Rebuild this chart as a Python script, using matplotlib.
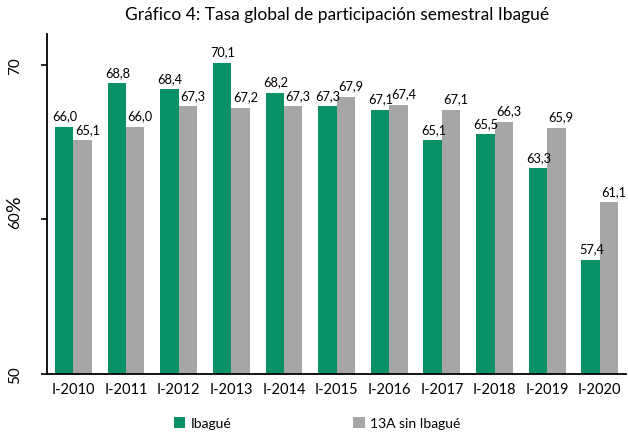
import matplotlib
matplotlib.use("Agg")
import matplotlib.pyplot as plt
import numpy as np

plt.rcParams['font.family'] = ['Lato', 'DejaVu Sans']

categories = ["I-2010", "I-2011", "I-2012", "I-2013", "I-2014", "I-2015", "I-2016",
              "I-2017", "I-2018", "I-2019", "I-2020"]
ibague = [66.0, 68.8, 68.4, 70.1, 68.2, 67.3, 67.1, 65.1, 65.5, 63.3, 57.4]
sin_ibague = [65.1, 66.0, 67.3, 67.2, 67.3, 67.9, 67.4, 67.1, 66.3, 65.9, 61.1]

green = "#0A9168"
gray = "#A6A6A6"

fig = plt.figure(figsize=(6.28, 4.35), dpi=100)
ax = fig.add_axes([0.075, 0.138, 0.922, 0.782])

x = np.arange(len(categories))
w = 0.35
b1 = ax.bar(x - w/2, ibague, w, color=green, label="Ibagué")
b2 = ax.bar(x + w/2, sin_ibague, w, color=gray, label="13A sin Ibagué")

def fmt(v):
    return f"{v:.1f}".replace(".", ",")

for rect, v in zip(b1, ibague):
    ax.annotate(fmt(v), (rect.get_x() + rect.get_width()/2, v), xytext=(0.5, 4),
                textcoords="offset points", ha="center", va="bottom", fontsize=9.2)
for rect, v in zip(b2, sin_ibague):
    ax.annotate(fmt(v), (rect.get_x() + rect.get_width()/2, v), xytext=(3.5, 4),
                textcoords="offset points", ha="center", va="bottom", fontsize=9.2)

ax.set_xlim(-0.5, len(categories) - 0.5)
ax.set_ylim(50, 72)
ax.set_yticks([50, 60, 70])
ax.set_yticklabels(["50", "60", "70"], rotation=90, va="center", fontsize=11)
ax.set_xticks(x)
ax.set_xticklabels(categories, fontsize=10.5)
ax.tick_params(axis="x", length=0, pad=6)
ax.tick_params(axis="y", length=4, width=1.2, pad=14)
fig.text(15/628, 1 - 204/435, "%", rotation=90, ha="center", va="center", fontsize=14)
ax.spines["top"].set_visible(False)
ax.spines["right"].set_visible(False)
ax.spines["left"].set_linewidth(1.3)
ax.spines["bottom"].set_linewidth(1.3)

ax.set_title("Gráfico 4: Tasa global de participación semestral Ibagué", fontsize=12.5, pad=11)

fig.legend(handles=[b1, b2], loc="lower center", ncol=2, frameon=False,
           bbox_to_anchor=(0.505, -0.018), fontsize=10, handlelength=0.8, handleheight=0.8,
           columnspacing=8.8, handletextpad=0.4)

fig.savefig("out.png", dpi=100)
